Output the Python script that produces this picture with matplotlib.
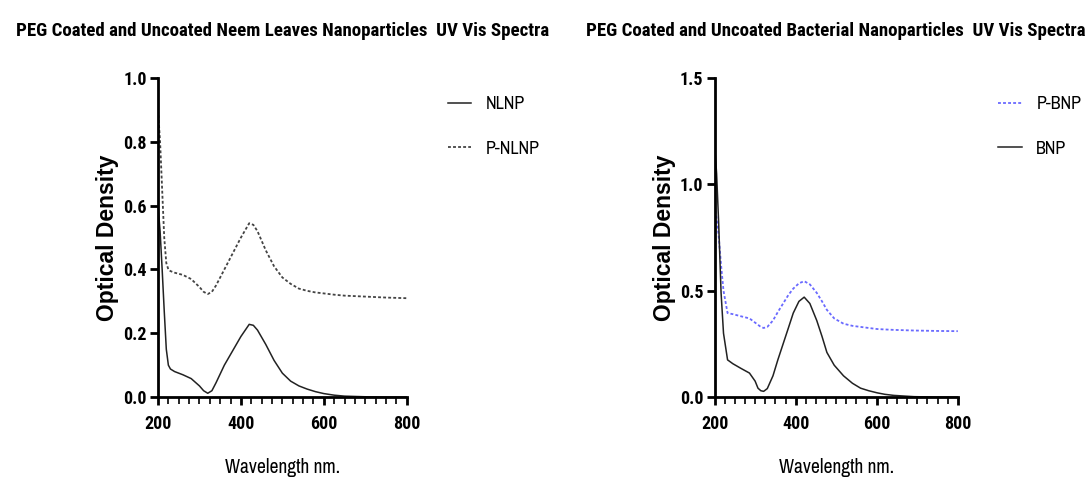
import matplotlib
matplotlib.use("Agg")
from matplotlib import pyplot as plt
from matplotlib.ticker import MultipleLocator, FormatStrFormatter

# wavelengths (nm) and readings
wl_n = [200, 205, 210, 215, 220, 225, 230, 240, 260, 280, 300, 310, 320, 330, 340, 360, 380,
        400, 420, 430, 440, 460, 480, 500, 520, 540, 560, 580, 600, 625, 650, 700, 750, 800]
nlnp = [0.60, 0.52, 0.40, 0.27, 0.15, 0.10, 0.088, 0.080, 0.070, 0.058, 0.035, 0.020, 0.012, 0.020,
        0.045, 0.100, 0.145, 0.190, 0.228, 0.225, 0.210, 0.165, 0.115, 0.075, 0.050, 0.035, 0.025,
        0.017, 0.011, 0.006, 0.003, 0.001, 0.0, 0.0]
p_nlnp = [0.90, 0.80, 0.65, 0.50, 0.42, 0.40, 0.395, 0.39, 0.383, 0.37, 0.345, 0.33, 0.323, 0.33,
          0.35, 0.40, 0.45, 0.50, 0.545, 0.54, 0.52, 0.46, 0.41, 0.375, 0.355, 0.34, 0.333, 0.328,
          0.325, 0.321, 0.318, 0.315, 0.312, 0.310]

wl_b = [200, 205, 210, 216, 222, 232, 245, 265, 286, 300, 307, 314, 321, 330, 344, 356, 369, 382,
        394, 408, 421, 435, 452, 465, 477, 495, 518, 540, 560, 580, 601, 620, 642, 692, 750, 800]
bnp = [1.19, 1.05, 0.82, 0.49, 0.30, 0.175, 0.157, 0.135, 0.113, 0.075, 0.042, 0.030, 0.027, 0.040,
       0.100, 0.175, 0.250, 0.325, 0.395, 0.450, 0.470, 0.440, 0.360, 0.285, 0.210, 0.150, 0.100,
       0.065, 0.042, 0.030, 0.020, 0.013, 0.008, 0.002, 0.0, 0.0]
p_bnp = [0.90, 0.84, 0.76, 0.62, 0.50, 0.395, 0.39, 0.38, 0.37, 0.35, 0.34, 0.33, 0.325, 0.33,
         0.36, 0.40, 0.44, 0.48, 0.51, 0.535, 0.545, 0.53, 0.49, 0.45, 0.41, 0.37, 0.345, 0.335,
         0.33, 0.325, 0.32, 0.318, 0.316, 0.313, 0.311, 0.310]

titles = ["PEG Coated and Uncoated Neem Leaves Nanoparticles  UV Vis Spectra",
          "PEG Coated and Uncoated Bacterial Nanoparticles  UV Vis Spectra"]

narrow = ["Archivo Narrow", "DejaVu Sans"]
cond = ["Roboto Condensed", "DejaVu Sans"]
wide = ["Liberation Sans", "DejaVu Sans"]

fig = plt.figure(figsize=(10.86, 4.79), dpi=100)
ax1 = fig.add_axes([0.1455, 0.171, 0.229, 0.666])
ax2 = fig.add_axes([0.658, 0.171, 0.224, 0.666])

dots = (0, (1.6, 1.2))
ax1.plot(wl_n, nlnp, color="#222222", lw=1.1, label="NLNP")
ax1.plot(wl_n, p_nlnp, color="#444444", lw=1.3, ls=dots, label="P-NLNP")
ax2.plot(wl_b, p_bnp, color="#6a6aff", lw=1.3, ls=dots, label="P-BNP")
ax2.plot(wl_b, bnp, color="#222222", lw=1.1, label="BNP")

for ax, ymax, ystep, t in [(ax1, 1.0, 0.2, titles[0]), (ax2, 1.5, 0.5, titles[1])]:
    ax.set_xlim(200, 800)
    ax.set_ylim(0, ymax)
    ax.xaxis.set_major_locator(MultipleLocator(200))
    ax.xaxis.set_minor_locator(MultipleLocator(25))
    ax.yaxis.set_major_locator(MultipleLocator(ystep))
    ax.yaxis.set_major_formatter(FormatStrFormatter("%.1f"))
    for s in ["top", "right"]:
        ax.spines[s].set_visible(False)
    for s in ["left", "bottom"]:
        ax.spines[s].set_linewidth(2)
    ax.tick_params(which="major", length=6, width=2, direction="out")
    ax.tick_params(axis="y", which="major", pad=2)
    ax.tick_params(axis="x", which="major", pad=7)
    ax.tick_params(which="minor", length=5, width=1.2, direction="out")
    for lab in ax.get_xticklabels() + ax.get_yticklabels():
        lab.set_family(cond)
        lab.set_fontsize(13)
        lab.set_fontweight("bold")
    ax.set_ylabel("Optical Density", family=wide, fontsize=16.5, fontweight="bold", labelpad=3)
    ax.set_xlabel("Wavelength nm.", family=narrow, fontsize=14, labelpad=18)
    ax.set_title(t, family=cond, fontsize=13.6, fontweight="bold", pad=30)
    ax.legend(loc="upper left", bbox_to_anchor=(1.1, 0.995), frameon=False,
              handlelength=1.3, labelspacing=1.6, prop={"family": narrow, "size": 13})

fig.savefig("out.png", dpi=100)
